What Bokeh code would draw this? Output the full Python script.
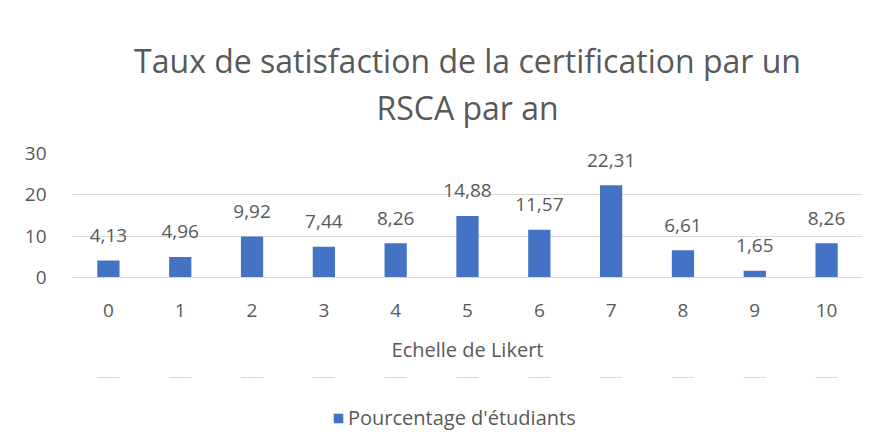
from bokeh.plotting import figure
from bokeh.layouts import column
from bokeh.models import ColumnDataSource, Title, Legend, LegendItem, FixedTicker, Range1d
from bokeh.core.properties import value
from bokeh.embed import file_html
from bokeh.resources import INLINE

categories = [0, 1, 2, 3, 4, 5, 6, 7, 8, 9, 10]
percentages = [4.13, 4.96, 9.92, 7.44, 8.26, 14.88, 11.57, 22.31, 6.61, 1.65, 8.26]
y_ticks = [0, 10, 20, 30]
series_name = "Pourcentage d'étudiants"
title_lines = ["Taux de satisfaction de la certification par un", "RSCA par an"]
x_title = "Echelle de Likert"

FONT = "Open Sans"
TXT = "#595959"
BAR = "#4472C4"
GRID = "#D9D9D9"
FS = "19px"

labels = [f"{v:.2f}".replace(".", ",") for v in percentages]
src = ColumnDataSource(dict(x=categories, y=percentages, lab=labels))

p = figure(frame_width=790, frame_height=124, x_range=(-0.5, 10.5), y_range=(0, 30),
           output_backend="svg", toolbar_location=None,
           min_border_left=72, min_border_right=14, min_border_top=153, min_border_bottom=100)
p.outline_line_color = None
p.border_fill_color = "white"
p.background_fill_color = "white"

r = p.vbar(x="x", top="y", width=0.31, source=src, fill_color=BAR, line_color=None)
p.text(x="x", y="y", text="lab", source=src, text_align="center", text_baseline="middle",
       y_offset=-25, text_font=value(FONT), text_font_size=FS, text_color=TXT)

# axes
p.xaxis.ticker = FixedTicker(ticks=categories)
p.xaxis.axis_line_color = GRID
p.xaxis.major_tick_line_color = None
p.xaxis.minor_tick_line_color = None
p.xaxis.major_label_text_font = FONT
p.xaxis.major_label_text_font_size = FS
p.xaxis.major_label_text_color = TXT
p.xaxis.major_label_standoff = 20
p.xaxis.axis_label = x_title
p.xaxis.axis_label_text_font = FONT
p.xaxis.axis_label_text_font_size = "20px"
p.xaxis.axis_label_text_font_style = "normal"
p.xaxis.axis_label_text_color = TXT
p.xaxis.axis_label_standoff = 16

p.yaxis.ticker = FixedTicker(ticks=y_ticks)
p.yaxis.axis_line_color = None
p.yaxis.major_tick_line_color = None
p.yaxis.minor_tick_line_color = None
p.yaxis.major_label_text_font = FONT
p.yaxis.major_label_text_font_size = FS
p.yaxis.major_label_text_color = TXT
p.yaxis.major_label_standoff = 20

p.xgrid.grid_line_color = None
p.ygrid.grid_line_color = GRID
p.ygrid.ticker = FixedTicker(ticks=y_ticks)

# titles: spacer closest to plot, then line 2, then line 1
p.add_layout(Title(text=" ", text_font_size="10px", standoff=10), "above")
for line, so in zip(reversed(title_lines), [4, 0]):
    p.add_layout(Title(text=line, align="center", text_font=FONT, text_font_size="32px",
                       text_font_style="normal", text_color=TXT, standoff=so), "above")

# legend strip below the chart (same series; its bars lie outside this strip's range)
pl = figure(width=876, height=71, output_backend="svg", toolbar_location=None,
            x_range=Range1d(-0.5, 10.5), y_range=Range1d(-2, -1),
            x_axis_location=None, y_axis_location=None,
            min_border_left=0, min_border_right=0, min_border_top=0, min_border_bottom=0)
pl.outline_line_color = None
pl.xgrid.grid_line_color = None
pl.ygrid.grid_line_color = None
rl = pl.vbar(x="x", top="y", width=0.31, source=src, fill_color=BAR, line_color=None)
legend = Legend(items=[LegendItem(label=series_name, renderers=[rl])], orientation="horizontal",
                location=(260, 17), label_text_font=FONT, label_text_font_size="20px",
                label_text_color=TXT, border_line_color=None, background_fill_alpha=0,
                glyph_width=12, glyph_height=12, margin=0, padding=0, label_standoff=4)
pl.add_layout(legend, "center")

layout = column(p, pl, spacing=0)
html = file_html(layout, INLINE)
open("out.html", "w").write(html)
